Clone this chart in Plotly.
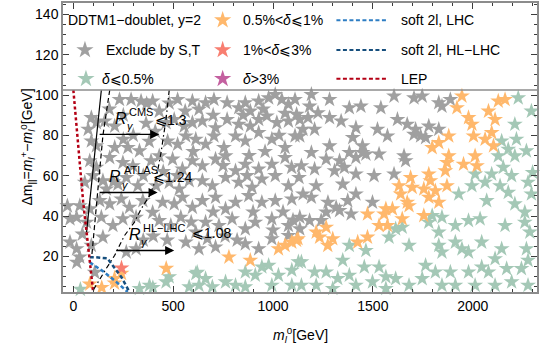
import plotly.graph_objects as go

# ---------------- data (m_l^0 [GeV], Delta m [GeV]) ----------------
grey_m0 = [231, 289, 339, 367, 397, 430, 522, 596, 629, 662, 704, 770, 828, 861, 886, 928, 978, 1011, 1044, 1077, 1110,
           90, 74, 115, 157, 207, 464, 505, 555, 596, 646, 712, 770, 828, 886, 928, 969, 1019, 1077, 1118, 364, 410, 250, 180,
           90, 115, 207, 273, 331, 472, 522, 563, 613, 662, 704, 754, 812, 861, 928, 994, 1060, 1110,
           82, 115, 182, 248, 298, 389, 430, 497, 546, 596, 646, 712, 762, 812, 861, 928, 994, 1060, 1093,
           57, 99, 148, 165, 223, 265, 323, 414, 480, 530, 580, 646, 696, 762, 828, 895, 944, 1011, 1077,
           32, 82, 132, 182, 240, 281, 348, 397, 447, 505, 546, 596, 646, 712, 762, 812, 878, 944, 1011, 1094,
           -17, 16, 66, 140, 198, 248, 314, 430, 488, 538, 613, 662, 729, 795, 861, 911, 994, 1077,
           -17, 16, 32, 90, 148, 265, 314, 563, 629, 671, 712, 861, 928, 994, 1077, 107, 17, -30, 45,
           1192, 1283, 1382, 1440, 1540, 1606, 1706, 1747, 1830, 1846, 1888, 1183, 1225, 1134, 1175, 1283, 1341,
           1150, 1208, 1134, 1415, 1523, 1573, 1623, 1672, 1714, 1780, 1830, 1706, 1764, 1739, 1283, 1399, 1448,
           1448, 1192, 1266, 1333, 1382, 1415, 1465, 1531, 1656, 1664, 1142, 1208, 1308, 1357, 1415, 1506, 1606,
           1130, 1216, 1349, 1150, 1192, 1275, 1333, 1374, 1415, 1498, 1266, 1391, 1134, 1183, 1241, 1134, 1316,
           560, 480, 700, 850, 950, 1060, 600, 750, 880, 960, 1030, 450, 350, 520, 870, 700, 900, 1050,
           400, 470, 760, 820, 1000, 1100, 590, 350, 200, 300, 250, 380]
grey_dm = [97.8, 97.8, 97, 95.8, 97, 92, 97.8, 97, 92.9, 96.2, 97.8, 96.2, 93.7, 96.2, 92, 97, 98.6, 100.3, 97.8, 95.4, 97.8,
           88.8, 83, 86.3, 87.1, 84.6, 86.3, 87.9, 84.6, 86.3, 87.1, 83.8, 87.9, 85.5, 84.6, 87.9, 89.6, 86.3, 87.1, 90.4, 86, 82, 90, 93,
           77.2, 74.8, 74, 74, 72.3, 77.2, 75.6, 79.7, 78.1, 75.6, 79.7, 74, 79.7, 77.2, 81.4, 78.1, 74, 79.7,
           67.4, 64.1, 69, 66.5, 64.9, 67.4, 69.8, 68.2, 63.3, 67.4, 64.9, 68.2, 69.8, 62.4, 65.7, 63.3, 65.7, 69, 64.1,
           56.7, 60, 57.5, 53.4, 55.8, 59.1, 55, 55, 56.7, 53.4, 57.5, 57.5, 55, 59.1, 56.7, 54.2, 58.3, 60, 55,
           45.1, 43.5, 47.6, 46, 48.4, 44.3, 47.6, 41.8, 46.8, 46, 49.3, 44.3, 47.6, 49.3, 43.5, 46.8, 50.1, 46.8, 47.6, 48.4,
           38.6, 39.4, 36.9, 39.4, 35.3, 38.6, 39.4, 37.7, 35.3, 39.4, 32, 36.9, 35.3, 38.6, 33.6, 36.9, 38.6, 35.3,
           27, 23.7, 19.6, 25.4, 29.5, 22.1, 23.7, 27, 23.7, 28.7, 24.6, 26.2, 23.7, 28.7, 30.3, 12, 17, 45, 31,
           100.3, 97.8, 93.7, 94.5, 93.7, 99.5, 98.6, 99.5, 96.2, 94.5, 97.8, 94.5, 91.2, 87.9, 88.8, 88.8, 87.1,
           83, 83, 79.7, 83.8, 83, 79.7, 87.9, 85.5, 83, 84.6, 83, 80.5, 78.9, 79.7, 74.8, 78.9, 74.8,
           71.5, 71.5, 68.2, 67.4, 71.5, 69, 70.7, 70.7, 69.8, 67.4, 64.9, 63.3, 62.4, 64.1, 60.8, 60, 60.8,
           59.1, 55, 55.8, 50.9, 49.3, 46.8, 42.7, 47.6, 50.9, 46.8, 41.9, 41, 39.4, 37.7, 37.7, 33.6, 44.3,
           92, 96, 90, 90, 93, 91, 72, 65, 70, 72, 80, 62, 60, 60, 60, 42, 42, 42,
           30, 28, 30, 28, 33, 38, 37, 28, 57, 80, 78, 77]

orange_m0 = [82, 142, 206, 241, 465, 779, 886, 1027, 1060, 1094, 1118, 206,
             1946, 1921, 1979, 1996, 2004, 2079, 2128, 2162, 2112, 2095, 2062, 2104, 1880, 1830, 1797, 1880, 1871,
             2012, 2021, 1954, 1863, 1780, 1788, 1689, 1697, 1631, 1639, 1755, 1813, 1871, 1780, 1830, 1672, 1681,
             1565, 1598, 1556, 1473, 1647, 1531, 1573, 1755, 1266, 1299, 1216, 1233, 1274, 1424, 1473, 1125]
orange_dm = [6.2, 4.5, 9, 11.5, 14, 19.6, 18, 23.7, 25.4, 27, 27.9, 6.7,
             99.5, 93.7, 88.8, 85.5, 79.7, 92, 97, 97.8, 87.9, 81.4, 78.1, 74.8, 79.7, 76.4, 73.9, 69.8, 66.5,
             69.8, 64.9, 65.7, 62.4, 60.8, 57.5, 59.1, 54.2, 55, 50.9, 53.4, 52.5, 55, 49.3, 46.8, 46.8, 45.1,
             43.5, 43.5, 41, 41, 38.6, 35.3, 35.3, 40.2, 34.4, 28.7, 32, 29.5, 25.4, 27, 29.5, 28.7]

red_m0 = [241]
red_dm = [14.2]

green_m0 = [35, 331, 381, 464, 480, 613, 662, 696, 762, 812, 861, 911, 944, 978, 1027, 1094, 1127, 1094, 861, 580, 629, 994, 398, 620,
            2228, 2294, 2211, 2219, 2145, 2178, 2128, 2211, 2269, 2153, 2095, 2195, 2062, 2137, 2178, 2277, 2300, 2012, 1996,
            1930, 2070, 2211, 2261, 2162, 2037, 1979, 1913, 1846, 1797, 1780, 1647, 1614, 1581, 1830, 1681, 1830, 1846, 1913,
            1946, 1979, 2045, 2145, 2269, 2277, 2112, 2045, 2079, 1979, 1888, 1813, 1764, 1747, 1681, 1614, 1565, 1531, 1457,
            1465, 1382, 1349, 1382, 1415, 1324, 1266, 1208, 1142, 1142, 1216, 1498, 1846, 1913, 2012, 2112, 2195, 2277, 2170,
            2244, 2261, 2294, 2286, 1299, 1565]
green_dm = [3.6, 4, 5.6, 7.3, 9.8, 11.4, 8.9, 4.8, 7.3, 5.6, 12.2, 10.6, 14.7, 15.5, 10.6, 13.1, 17.2, 5.6, 4.8, 4.8, 5.6, 5.6, 4.5, 12,
            98.6, 92, 85.5, 78.1, 77.2, 73.1, 69.8, 69.8, 72.3, 64.1, 60.8, 60, 56.7, 55, 51.7, 56.7, 61.6, 60.8, 55,
            50.9, 47.6, 46, 41.9, 35.3, 38.6, 37.7, 35.3, 39.4, 40.2, 36.9, 34.4, 33.6, 29.5, 32, 25.4, 25.4, 22.1, 27,
            23.7, 22.1, 27, 23.7, 23.7, 18, 18.8, 14.7, 12.2, 12.2, 12.2, 12.2, 15.5, 8.9, 5.6, 8.9, 9.8, 14.7, 14.7,
            22.9, 25.4, 18, 10.6, 5.6, 9, 12.2, 12.2, 17.2, 5.6, 5.6, 7.3, 5.6, 5.6, 5.6, 5.6, 7.3, 5.6, 13.9,
            13.9, 36.9, 50.9, 32, 4, 4]

# exclusion / sensitivity curves
lep_m0 = [0, 20, 49, 74, 90, 99]
lep_dm = [102.5, 80, 47, 25, 12, 2.3]
cms_solid_m0 = [140, 66]
cms_solid_dm = [102.5, 32]
atlas_dash_m0 = [182, 165, 148, 132, 115, 100, 92]
atlas_dash_dm = [102.5, 92, 80, 63, 45, 30, 20]
hl_dashdot_m0 = [480, 464, 439, 414, 381, 339, 306, 256, 231, 207, 165, 124, 99]
hl_dashdot_dm = [102.5, 88, 71.5, 58.3, 50, 43.5, 37, 30.3, 25.4, 20.5, 14, 7.3, 3.2]
soft_lhc_m0 = [82, 150, 216, 272]
soft_lhc_dm = [17, 12.5, 7.2, 2.3]
soft_hl_m0 = [82, 107, 171, 241, 281]
soft_hl_dm = [19.6, 19.6, 19, 9.6, 2.3]

legend_cut = 102.5

# arrows: (tail m0, head m0, dm)
arrow_tail = [124, 124, 207]
arrow_head = [430, 422, 505]
arrow_dm = [80.5, 51.7, 22.9]

# ---------------- figure ----------------
GREY = "rgb(160,160,160)"
ORANGE = "rgb(255,184,108)"
GREEN = "rgb(164,200,182)"
RED = "rgb(248,126,112)"
PURPLE = "rgb(196,96,160)"
C_LHC = "rgb(45,125,195)"
C_HL = "rgb(22,78,125)"
C_LEP = "rgb(180,0,20)"
FONT = "Liberation Sans, Arial, sans-serif"

X_RANGE = [-52, 2322]
Y_RANGE = [2.3, 145.7]

fig = go.Figure()
def stars(x, y, c, size=12):
    fig.add_trace(go.Scatter(x=x, y=y, mode="markers", showlegend=False, cliponaxis=False,
                             marker=dict(symbol="star", size=size, color=c, line=dict(width=0))))
stars(grey_m0, grey_dm, GREY)
stars(green_m0, green_dm, GREEN)
stars(orange_m0, orange_dm, ORANGE)
stars(red_m0, red_dm, RED)

def curve(x, y, c, w, dash):
    fig.add_trace(go.Scatter(x=x, y=y, mode="lines", showlegend=False,
                             line=dict(color=c, width=w, dash=dash)))
curve(cms_solid_m0, cms_solid_dm, "black", 1.2, "solid")
curve(atlas_dash_m0, atlas_dash_dm, "black", 1.2, "5px,3px")
curve(hl_dashdot_m0, hl_dashdot_dm, "black", 1.2, "5px,3px,1.5px,3px")
curve(soft_lhc_m0, soft_lhc_dm, C_LHC, 2.5, "4px,2.5px")
curve(soft_hl_m0, soft_hl_dm, C_HL, 2.5, "4px,2.5px")
curve(lep_m0, lep_dm, C_LEP, 2.5, "3px,2.5px")

# legend separator line
fig.add_shape(type="line", xref="paper", x0=0, x1=1, yref="y", y0=legend_cut, y1=legend_cut,
              line=dict(color="rgb(140,140,140)", width=1.5))

for t, h, d in zip(arrow_tail, arrow_head, arrow_dm):
    fig.add_annotation(x=h, y=d, ax=t, ay=d, axref="x", ayref="y", xref="x", yref="y", text="",
                       showarrow=True, arrowhead=2, arrowsize=1.3, arrowwidth=1.4, arrowcolor="black")

def txt(x, y, s, size, xref="x", yref="y", anchor="center"):
    fig.add_annotation(x=x, y=y, xref=xref, yref=yref, text=s, showarrow=False, xanchor=anchor,
                       yanchor="middle", font=dict(family=FONT, size=size, color="black"),
                       borderpad=0)

# R_gamma labels (R, superscript, subscript gamma, bound)
txt(239, 88.5, "<i>R</i>", 16); txt(276, 91.6, "CMS", 11, anchor="left"); txt(266, 84.6, "<i>γ</i>", 11, anchor="left")
txt(489, 87.6, "⩽1.3", 14)
txt(209, 59.5, "<i>R</i>", 16); txt(246, 62.6, "ATLAS", 11, anchor="left"); txt(236, 55.6, "<i>γ</i>", 11, anchor="left")
txt(498, 59.5, "⩽1.24", 14)
txt(309, 30.9, "<i>R</i>", 16); txt(346, 34.0, "HL−LHC", 11, anchor="left"); txt(336, 27.0, "<i>γ</i>", 11, anchor="left")
txt(694, 31.4, "⩽1.08", 14)

# ---------------- custom legend (placed in the box above the separator) ----------------
def px2paper(px, py):
    return (px - 63) / 475.0, (292 - py) / 291.0

def px2data(px, py):
    fx, fy = px2paper(px, py)
    return X_RANGE[0] + fx * (X_RANGE[1] - X_RANGE[0]), Y_RANGE[0] + fy * (Y_RANGE[1] - Y_RANGE[0])

leg_star_px = [(85, 48.3, GREY), (86, 77.3, GREEN), (223, 18.3, ORANGE), (223, 48.3, RED), (223, 77.3, PURPLE)]
for px, py, c in leg_star_px:
    lx, ly = px2data(px, py)
    stars([lx], [ly], c, 13)
leg_text = [(67, 18.3, "DDTM1−doublet, y=2"), (105, 48.3, "Exclude by S,T"), (101, 77.3, "<i>δ</i>⩽0.5%"),
            (242, 18.3, "0.5%&lt;<i>δ</i>⩽1%"), (242, 48.3, "1%&lt;<i>δ</i>⩽3%"), (242, 77.3, "<i>δ</i>&gt;3%"),
            (401, 18.3, "soft 2l, LHC"), (401, 48.3, "soft 2l, HL−LHC"), (401, 77.3, "LEP")]
for px, py, s in leg_text:
    lx, ly = px2paper(px, py)
    txt(lx, ly, s, 14, "paper", "paper", "left")
for py, c in [(18.3, C_LHC), (48.3, C_HL), (77.3, C_LEP)]:
    x0, y0 = px2paper(337, py)
    x1, _ = px2paper(389, py)
    fig.add_shape(type="line", xref="paper", yref="paper", x0=x0, x1=x1, y0=y0, y1=y0,
                  line=dict(color=c, width=2, dash="4px,2.5px"))

# axis titles
txt(0.501, -0.148, "<i>m</i><sub><i>l</i></sub><sup>0</sup>[GeV]", 14, "paper", "paper")
fig.add_annotation(x=(15 - 63) / 475.0, y=0.5, xref="paper", yref="paper", showarrow=False, textangle=-90,
                   text="Δm<sub>||</sub>=<i>m</i><sub><i>l</i></sub><sup>+</sup>−<i>m</i><sub><i>l</i></sub><sup>0</sup>[GeV]",
                   font=dict(family=FONT, size=14, color="black"))

axis_common = dict(showline=True, linecolor="rgb(140,140,140)", linewidth=1.5, mirror="allticks",
                   ticks="inside", ticklen=6, tickwidth=1, tickcolor="rgb(60,60,60)", showgrid=False, zeroline=False,
                   tickfont=dict(family=FONT, size=14, color="black"))
fig.update_xaxes(range=X_RANGE, tickvals=[0, 500, 1000, 1500, 2000],
                 minor=dict(ticks="inside", ticklen=3, dtick=100, tick0=0, tickcolor="rgb(60,60,60)"),
                 **axis_common)
fig.update_yaxes(range=Y_RANGE, tickvals=[20, 40, 60, 80, 100, 120, 140],
                 minor=dict(ticks="inside", ticklen=3, dtick=5, tick0=0, tickcolor="rgb(60,60,60)"),
                 **axis_common)
fig.update_layout(width=540, height=352, margin=dict(l=63, r=2, t=1, b=60),
                  plot_bgcolor="white", paper_bgcolor="white", showlegend=False,
                  font=dict(family=FONT, size=14, color="black"))
fig.write_html("out.html", config={"displayModeBar": False},
               post_script="document.body.style.margin='0px';")
